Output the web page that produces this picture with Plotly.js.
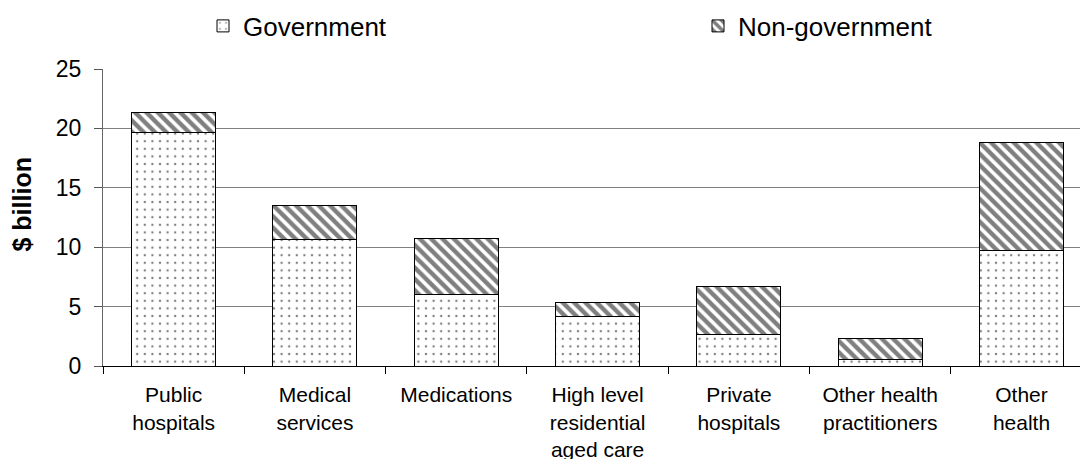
<!DOCTYPE html>
<html>
<head>
<meta charset="utf-8">
<script src="https://cdn.plot.ly/plotly-3.0.1.min.js"></script>
<style>html,body{margin:0;padding:0;background:#fff;}#chart{width:1080px;height:459px;}</style>
</head>
<body>
<div id="chart"></div>
<script>
var categories = ["Public<br>hospitals", "Medical<br>services", "Medications", "High level<br>residential<br>aged care", "Private<br>hospitals", "Other health<br>practitioners", "Other<br>health"];
var government = [19.64, 10.66, 6.00, 4.15, 2.63, 0.56, 9.71];
var nonGovernment = [1.68, 2.87, 4.72, 1.18, 4.05, 1.77, 9.12];
var yTicks = [0, 5, 10, 15, 20, 25];

var FONT = "Liberation Sans, Arial, sans-serif";

var traces = [
  {
    type: "bar", name: "Government", x: categories, y: government,
    legend: "legend",
    marker: {
      color: "#ffffff",
      line: {color: "#000000", width: 1},
      pattern: {shape: ".", fgcolor: "#000000", bgcolor: "#ffffff", size: 7.6, solidity: 0.08, fillmode: "overlay"}
    },
    hoverinfo: "skip"
  },
  {
    type: "bar", name: "Non-government", x: categories, y: nonGovernment,
    legend: "legend2",
    marker: {
      color: "#ffffff",
      line: {color: "#000000", width: 1},
      pattern: {shape: "\\", fgcolor: "#000000", bgcolor: "#ffffff", size: 8, solidity: 0.55, fillmode: "overlay"}
    },
    hoverinfo: "skip"
  }
];

var legendBase = {
  orientation: "h",
  xref: "container", yref: "container",
  xanchor: "left",
  y: 1 - 26 / 459, yanchor: "middle",
  font: {family: FONT, size: 26, color: "#000000"},
  bgcolor: "rgba(0,0,0,0)"
};

var layout = {
  width: 1080, height: 459,
  margin: {l: 103, r: 0, t: 69, b: 93},
  paper_bgcolor: "#ffffff", plot_bgcolor: "#ffffff",
  barmode: "stack", bargap: 0.406,
  font: {family: FONT, color: "#000000", size: 21},
  showlegend: true,
  legend: Object.assign({}, legendBase, {x: 203 / 1080}),
  legend2: Object.assign({}, legendBase, {x: 698 / 1080}),
  xaxis: {
    type: "category",
    range: [-0.5, 6.414],
    tickson: "boundaries",
    ticks: "outside", ticklen: 7, tickcolor: "#000000", tickwidth: 1,
    ticklabelstandoff: 10,
    showline: true, linecolor: "#000000", linewidth: 1,
    showgrid: false, zeroline: false,
    tickfont: {family: FONT, size: 21, color: "#000000"},
    fixedrange: true
  },
  yaxis: {
    range: [0, 25],
    tickmode: "array", tickvals: yTicks, ticktext: yTicks.map(String),
    ticks: "outside", ticklen: 8, tickcolor: "#555555", tickwidth: 1,
    ticklabelstandoff: 8,
    showline: true, linecolor: "#666666", linewidth: 1,
    showgrid: true, gridcolor: "#808080", gridwidth: 1,
    zeroline: false,
    tickfont: {family: FONT, size: 23, color: "#000000"},
    fixedrange: true
  },
  annotations: [
    {
      text: "<b>$ billion</b>", xref: "paper", yref: "paper",
      x: 0, xshift: -80.5, y: 0.542, xanchor: "center", yanchor: "middle",
      textangle: -90, showarrow: false,
      font: {family: FONT, size: 25, color: "#000000"}
    }
  ]
};

Plotly.newPlot("chart", traces, layout, {displayModeBar: false, staticPlot: true});
</script>
</body>
</html>
